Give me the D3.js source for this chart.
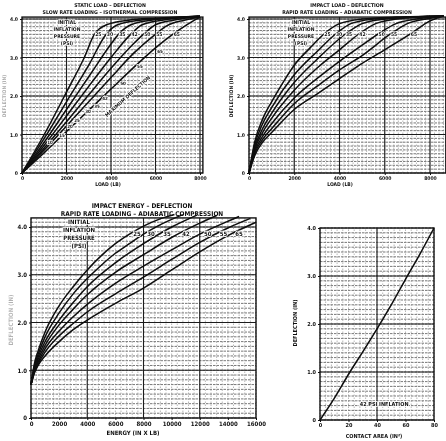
<!DOCTYPE html>
<html>
<head>
<meta charset="utf-8">
<script src="https://cdn.jsdelivr.net/npm/d3@7"></script>
<style>
  body { margin: 0; background: #fff; }
  svg text { font-family: "Liberation Sans Narrow", "DejaVu Sans Condensed", sans-serif; font-weight: bold; fill: #111; }
</style>
</head>
<body>
<svg id="chart" width="446" height="441"></svg>
<script>
// ---- values ----
const psiLabels = ["25", "30", "35", "42", "50", "55", "65"];
const deflTicks = [0, 1, 2, 3, 4];
const loadTicks = [0, 2000, 4000, 6000, 8000];
const energyTicks = [0, 2000, 4000, 6000, 8000, 10000, 12000, 14000, 16000];
const areaTicks = [0, 20, 40, 60, 80];

// static load (lb) vs deflection (in), one curve per inflation pressure
const staticCurves = [
  [[0,0],[1000,1.0],[2000,2.1],[2800,3.0],[3250,3.6],[3800,3.85],[4800,3.97],[6000,4.02],[8000,4.07]],
  [[0,0],[1000,0.9],[2000,1.85],[3000,2.8],[3775,3.6],[4300,3.85],[5300,3.97],[6500,4.02],[8000,4.07]],
  [[0,0],[1000,0.8],[2000,1.65],[3000,2.5],[4000,3.35],[4330,3.6],[4900,3.85],[5800,3.97],[8000,4.07]],
  [[0,0],[1000,0.72],[2000,1.48],[3000,2.25],[4000,3.0],[4884,3.6],[5400,3.85],[6300,3.97],[8000,4.07]],
  [[0,0],[1000,0.65],[2000,1.33],[3000,2.03],[4000,2.72],[5000,3.35],[5453,3.6],[6000,3.85],[6800,3.97],[8000,4.07]],
  [[0,0],[1000,0.6],[2000,1.22],[3000,1.85],[4000,2.48],[5000,3.1],[5993,3.6],[6500,3.82],[7300,3.97],[8000,4.05]],
  [[0,0],[1000,0.53],[2000,1.08],[3000,1.63],[4000,2.18],[5000,2.73],[6000,3.25],[6772,3.6],[7400,3.85],[8000,4.05]]
];
// bottoming points marked along the diagonal of the static chart
const staticBottomPsi = ["10", "15", "20", "25", "30", "35", "42", "50", "55", "65"];
const staticBottomPts = [[1260,0.75],[1800,0.93],[2160,1.17],[2470,1.32],[2970,1.55],[3370,1.68],[3730,1.89],[4540,2.28],[5300,2.72],[6200,3.11]];

// impact load (lb) vs deflection (in)
const impactCurves = [
  [[0,0],[250,0.8],[600,1.4],[1000,1.85],[1500,2.35],[2000,2.8],[2700,3.25],[3350,3.63],[4000,3.88],[5000,4.0],[6500,4.05],[8600,4.08]],
  [[0,0],[250,0.72],[600,1.28],[1000,1.7],[2000,2.55],[3000,3.15],[3867,3.63],[4500,3.88],[5500,4.0],[7000,4.05],[8600,4.08]],
  [[0,0],[250,0.65],[600,1.15],[1000,1.55],[2000,2.35],[3000,2.95],[4310,3.63],[5000,3.88],[6000,4.0],[7300,4.05],[8600,4.08]],
  [[0,0],[250,0.6],[600,1.05],[1000,1.42],[2000,2.15],[3000,2.72],[4000,3.2],[4900,3.63],[5600,3.88],[6500,4.0],[8600,4.08]],
  [[0,0],[250,0.55],[600,0.95],[1000,1.28],[2000,1.95],[3000,2.45],[4000,2.9],[5000,3.32],[5756,3.63],[6500,3.88],[7400,4.0],[8600,4.08]],
  [[0,0],[250,0.5],[600,0.87],[1000,1.15],[2000,1.8],[3000,2.25],[4000,2.68],[5000,3.05],[6302,3.63],[7000,3.88],[8000,4.02],[8600,4.08]],
  [[0,0],[250,0.45],[600,0.8],[1000,1.05],[2000,1.65],[3000,2.05],[4000,2.45],[5000,2.85],[6000,3.2],[7188,3.63],[8000,3.95],[8600,4.08]]
];

// impact energy (in x lb) vs deflection (in)
const energyCurves = [
  [[0,0.7],[250,1.15],[500,1.4],[1000,1.8],[2000,2.35],[3000,2.75],[4000,3.1],[5000,3.4],[6000,3.65],[7000,3.85],[8000,4.02],[9000,4.15],[10200,4.26]],
  [[0,0.7],[250,1.1],[500,1.33],[1000,1.7],[2000,2.2],[3000,2.6],[4000,2.92],[5000,3.2],[6000,3.45],[7000,3.65],[8000,3.85],[9000,4.02],[10800,4.26]],
  [[0,0.7],[250,1.05],[500,1.27],[1000,1.6],[2000,2.05],[3000,2.42],[4000,2.75],[6000,3.25],[8000,3.65],[10000,4.0],[11800,4.25]],
  [[0,0.7],[250,1.02],[500,1.22],[1000,1.52],[2000,1.95],[3000,2.28],[4000,2.58],[6000,3.05],[8000,3.42],[10000,3.78],[12000,4.08],[13200,4.24]],
  [[0,0.7],[250,1.0],[500,1.17],[1000,1.45],[2000,1.82],[3000,2.12],[4000,2.38],[6000,2.82],[8000,3.18],[10000,3.52],[12000,3.85],[14000,4.12],[14800,4.22]],
  [[0,0.7],[250,0.97],[500,1.13],[1000,1.38],[2000,1.72],[3000,1.98],[4000,2.22],[6000,2.6],[8000,2.95],[10000,3.32],[12000,3.68],[14000,3.98],[15600,4.18]],
  [[0,0.7],[250,0.95],[500,1.1],[1000,1.3],[2000,1.6],[3000,1.85],[4000,2.05],[6000,2.4],[8000,2.72],[10000,3.1],[12000,3.48],[14000,3.82],[16000,4.1]]
];

// contact area (in^2) vs deflection (in), 42 psi
const areaCurve = [[0,0],[10,0.45],[21,1.0],[30,1.42],[40,1.9],[50,2.4],[60,2.93],[70,3.45],[80,4.0]];

const svg = d3.select("#chart");
svg.append("defs").append("filter").attr("id", "scan")
  .append("feGaussianBlur").attr("stdDeviation", 0.3);
const root = svg.append("g").attr("filter", "url(#scan)");

// x value where a curve first reaches a given deflection
function xAtY(curve, yv) {
  for (let i = 1; i < curve.length; i++) {
    const [x0, y0] = curve[i - 1], [x1, y1] = curve[i];
    if (y1 >= yv) return x0 + (x1 - x0) * (yv - y0) / (y1 - y0);
  }
  return curve[curve.length - 1][0];
}

function halo(sel) {
  return sel.attr("stroke", "#fff").attr("stroke-width", 1.6).attr("paint-order", "stroke");
}

function drawPanel(cfg) {
  const g = root.append("g");
  const x = d3.scaleLinear().domain([0, cfg.xMax]).range(cfg.xRange);
  const y = d3.scaleLinear().domain([0, 4]).range(cfg.yRange);
  const fs = cfg.fontSize;

  // dense printed grid
  g.append("g").selectAll("line")
    .data(d3.range(0, cfg.boxY + 1e-6, 0.1))
    .join("line")
      .attr("x1", x(0)).attr("x2", x(cfg.boxX))
      .attr("y1", d => y(d)).attr("y2", d => y(d))
      .attr("stroke", "#555").attr("stroke-width", 0.8)
      .attr("stroke-dasharray", "2.5,1");
  g.append("g").selectAll("line")
    .data(d3.range(0, cfg.boxX + 1e-6, cfg.xMinor))
    .join("line")
      .attr("x1", d => x(d)).attr("x2", d => x(d))
      .attr("y1", y(0)).attr("y2", y(cfg.boxY))
      .attr("stroke", "#888").attr("stroke-width", 0.6)
      .attr("stroke-dasharray", "1.5,1.5");
  // heavy lines
  g.append("g").selectAll("line")
    .data(cfg.yMajor)
    .join("line")
      .attr("x1", x(0)).attr("x2", x(cfg.boxX))
      .attr("y1", d => y(d)).attr("y2", d => y(d))
      .attr("stroke", "#1a1a1a").attr("stroke-width", 1.1);
  g.append("g").selectAll("line")
    .data(cfg.xMajor)
    .join("line")
      .attr("x1", d => x(d)).attr("x2", d => x(d))
      .attr("y1", y(0)).attr("y2", y(cfg.boxY))
      .attr("stroke", "#1a1a1a").attr("stroke-width", 1.1);
  g.append("rect")
    .attr("x", x(0)).attr("y", y(cfg.boxY))
    .attr("width", x(cfg.boxX) - x(0)).attr("height", y(0) - y(cfg.boxY))
    .attr("fill", "none").attr("stroke", "#111").attr("stroke-width", 1.4);

  // axes
  const yAxis = g.append("g")
    .attr("transform", `translate(${x(0)},0)`)
    .call(d3.axisLeft(y).tickValues(deflTicks).tickSize(2).tickPadding(2)
      .tickFormat(d => d === 0 ? "0" : d.toFixed(1)));
  const xAxis = g.append("g")
    .attr("transform", `translate(0,${y(0)})`)
    .call(d3.axisBottom(x).tickValues(cfg.xTicks).tickSize(2).tickPadding(1.5)
      .tickFormat(d3.format("d")));
  [yAxis, xAxis].forEach(a => {
    a.select(".domain").remove();
    a.selectAll("line").attr("stroke", "#111");
    a.selectAll("text").attr("font-size", fs).attr("fill", "#111");
  });

  // curves
  const line = d3.line().x(d => x(d[0])).y(d => y(d[1])).curve(d3.curveMonotoneX);
  g.append("g").selectAll("path")
    .data(cfg.curves)
    .join("path")
      .attr("d", line)
      .attr("fill", "none").attr("stroke", "#0a0a0a").attr("stroke-width", 1.5);

  // titles and labels
  cfg.title.forEach((t, i) => {
    g.append("text").attr("x", cfg.titleX).attr("y", cfg.titleY + i * (cfg.titleSize + 1.5))
      .attr("text-anchor", "middle").attr("font-size", cfg.titleSize).text(t);
  });
  g.append("text").attr("x", cfg.xLabelPos[0]).attr("y", cfg.xLabelPos[1])
    .attr("text-anchor", "middle").attr("font-size", fs).text(cfg.xLabel);
  g.append("text")
    .attr("transform", `translate(${cfg.yLabelPos[0]},${cfg.yLabelPos[1]}) rotate(-90)`)
    .attr("text-anchor", "middle").attr("font-size", fs)
    .attr("opacity", cfg.yLabelOpacity).text("DEFLECTION (IN)");

  if (cfg.psiPos) {
    ["INITIAL", "INFLATION", "PRESSURE", "(PSI)"].forEach((t, i) => {
      halo(g.append("text").attr("x", cfg.psiPos[0]).attr("y", cfg.psiPos[1] + i * (fs + 2))
        .attr("text-anchor", "middle").attr("font-size", fs).text(t));
    });
    g.append("g").selectAll("text")
      .data(cfg.curves)
      .join("text")
        .attr("x", (d, i) => x(xAtY(d, cfg.labelAt)) + cfg.labelDx)
        .attr("y", y(cfg.labelAt) + fs / 2)
        .attr("text-anchor", "middle").attr("font-size", fs)
        .text((d, i) => psiLabels[i])
        .call(halo);
  }
  return { g, x, y };
}

// top left: static load
const p1 = drawPanel({
  curves: staticCurves, xMax: 8000, xRange: [22, 200], yRange: [173, 19],
  boxX: 8130, boxY: 4.05, xMinor: 200, xMajor: [2000, 4000, 6000, 8000], yMajor: [1, 2, 3, 4],
  xTicks: loadTicks, fontSize: 5,
  title: ["STATIC LOAD – DEFLECTION", "SLOW RATE LOADING – ISOTHERMAL COMPRESSION"],
  titleX: 110, titleY: 7, titleSize: 5.2,
  xLabel: "LOAD (LB)", xLabelPos: [108, 186], yLabelPos: [6, 96], yLabelOpacity: 0.35,
  psiPos: [67, 24], labelAt: 3.62, labelDx: 3
});
p1.g.append("g").selectAll("text")
  .data(staticBottomPts)
  .join("text")
    .attr("x", d => p1.x(d[0])).attr("y", d => p1.y(d[1]))
    .attr("text-anchor", "middle").attr("font-size", 4.5)
    .text((d, i) => staticBottomPsi[i])
    .call(halo);
halo(p1.g.append("text")
  .attr("transform", `translate(${p1.x(4800)},${p1.y(1.96)}) rotate(-42)`)
  .attr("text-anchor", "middle").attr("font-size", 5).text("MAXIMUM DEFLECTION"));

// top right: impact load
drawPanel({
  curves: impactCurves, xMax: 8000, xRange: [249, 430], yRange: [173, 19],
  boxX: 8700, boxY: 4.05, xMinor: 200, xMajor: [2000, 4000, 6000, 8000], yMajor: [1, 2, 3, 4],
  xTicks: loadTicks, fontSize: 5,
  title: ["IMPACT LOAD – DEFLECTION", "RAPID RATE LOADING – ADIABATIC COMPRESSION"],
  titleX: 347, titleY: 7, titleSize: 5.2,
  xLabel: "LOAD (LB)", xLabelPos: [340, 186], yLabelPos: [233, 96], yLabelOpacity: 1,
  psiPos: [301, 24], labelAt: 3.62, labelDx: 3
});

// bottom left: impact energy
drawPanel({
  curves: energyCurves, xMax: 16000, xRange: [31, 256], yRange: [418, 227],
  boxX: 16000, boxY: 4.19, xMinor: 400, xMajor: [4000, 8000, 12000], yMajor: [1, 2, 3, 4],
  xTicks: energyTicks, fontSize: 6,
  title: ["IMPACT ENERGY – DEFLECTION", "RAPID RATE LOADING – ADIABATIC COMPRESSION"],
  titleX: 142, titleY: 208, titleSize: 6.5,
  xLabel: "ENERGY (IN X LB)", xLabelPos: [133, 435], yLabelPos: [13, 320], yLabelOpacity: 0.3,
  psiPos: [79, 224], labelAt: 3.88, labelDx: 5
});

// bottom right: contact area
const p4 = drawPanel({
  curves: [areaCurve], xMax: 80, xRange: [320, 434], yRange: [420, 228],
  boxX: 80, boxY: 4.0, xMinor: 4, xMajor: [40], yMajor: [1, 2, 3],
  xTicks: areaTicks, fontSize: 5.5,
  title: [], titleX: 0, titleY: 0, titleSize: 6,
  xLabel: "CONTACT AREA (IN²)", xLabelPos: [374, 438], yLabelPos: [297, 323], yLabelOpacity: 1
});
halo(p4.g.append("text")
  .attr("x", p4.x(45)).attr("y", p4.y(0.3))
  .attr("text-anchor", "middle").attr("font-size", 5.5).text("42 PSI INFLATION"));
</script>
</body>
</html>
